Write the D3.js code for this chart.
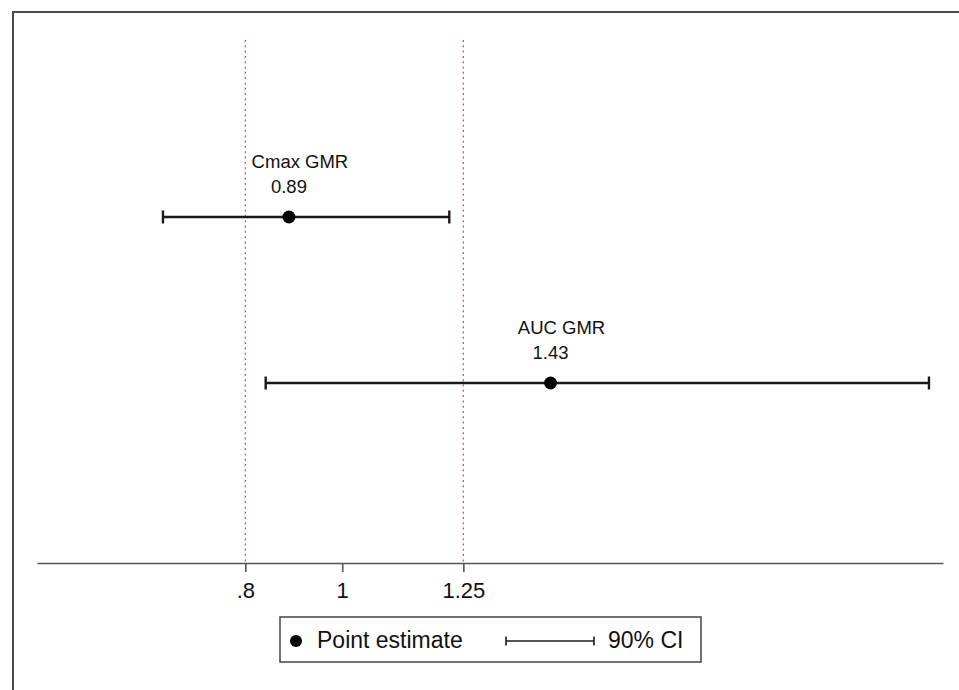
<!DOCTYPE html>
<html>
<head>
<meta charset="utf-8">
<script src="https://cdn.jsdelivr.net/npm/d3@7"></script>
<style>
  body { margin: 0; background: #fff; }
  text { font-family: "Liberation Sans", Arial, Helvetica, sans-serif; fill: #111; }
</style>
</head>
<body>
<div id="chart"></div>
<script>
// data
var measures = ["Cmax GMR", "AUC GMR"];
var estimates = [0.89, 1.43];
var lowerCI = [0.63, 0.842];
var upperCI = [1.221, 2.211];
var estLabels = ["0.89", "1.43"];
var tickValues = [0.8, 1, 1.25];
var tickLabels = [".8", "1", "1.25"];
var refLines = [0.8, 1.25];

var width = 959, height = 690;

var svg = d3.select("#chart").append("svg")
  .attr("width", width).attr("height", height);

// outer frame (only top/left visible in the crop)
svg.append("path")
  .attr("d", "M13,690 L13,12 L959,12")
  .style("fill", "none")
  .style("stroke", "#4a4a4a")
  .style("stroke-width", 2);

var x = d3.scaleLinear().domain([0.37, 2.24]).range([37, 943]);
var y = d3.scalePoint().domain(measures).range([217, 383]);
var axisY = 563;

// reference lines
svg.selectAll("line.ref").data(refLines).enter().append("line")
  .attr("class", "ref")
  .attr("x1", function(d){ return x(d); }).attr("x2", function(d){ return x(d); })
  .attr("y1", 40).attr("y2", axisY)
  .style("stroke", "#ff4848")
  .style("stroke-width", 1.3)
  .style("stroke-dasharray", "2,3.3");

// x axis
var axis = d3.axisBottom(x)
  .tickValues(tickValues)
  .tickSizeInner(9)
  .tickSizeOuter(0)
  .tickPadding(10)
  .tickFormat(function(d, i){ return tickLabels[i]; });

var gx = svg.append("g")
  .attr("transform", "translate(0," + axisY + ")")
  .call(axis);
gx.select(".domain").style("stroke", "#555").style("stroke-width", 1.6);
gx.selectAll(".tick line").style("stroke", "#555").style("stroke-width", 1.6);
gx.selectAll(".tick text")
  .style("font-family", "'Liberation Sans', Arial, sans-serif")
  .style("font-size", "22px")
  .style("fill", "#111");

// error bars
var rows = svg.selectAll("g.row").data(measures).enter().append("g")
  .attr("class", "row");

rows.append("line")
  .attr("x1", function(d, i){ return x(lowerCI[i]); })
  .attr("x2", function(d, i){ return x(upperCI[i]); })
  .attr("y1", function(d){ return y(d); }).attr("y2", function(d){ return y(d); })
  .style("stroke", "#1a1a1a").style("stroke-width", 2.4);

[lowerCI, upperCI].forEach(function(arr){
  rows.append("line")
    .attr("x1", function(d, i){ return x(arr[i]); })
    .attr("x2", function(d, i){ return x(arr[i]); })
    .attr("y1", function(d){ return y(d) - 6.5; })
    .attr("y2", function(d){ return y(d) + 6.5; })
    .style("stroke", "#1a1a1a").style("stroke-width", 2.4);
});

rows.append("circle")
  .attr("cx", function(d, i){ return x(estimates[i]); })
  .attr("cy", function(d){ return y(d); })
  .attr("r", 6.5)
  .style("fill", "#000");

rows.append("text")
  .attr("x", function(d, i){ return x(estimates[i]) + 11; })
  .attr("y", function(d){ return y(d) - 49; })
  .attr("text-anchor", "middle")
  .style("font-size", "18.5px")
  .text(function(d){ return d; });

rows.append("text")
  .attr("x", function(d, i){ return x(estimates[i]); })
  .attr("y", function(d){ return y(d) - 24; })
  .attr("text-anchor", "middle")
  .style("font-size", "18.5px")
  .text(function(d, i){ return estLabels[i]; });

// legend
var lg = svg.append("g");
lg.append("rect")
  .attr("x", 280).attr("y", 617).attr("width", 421).attr("height", 45)
  .style("fill", "#fff").style("stroke", "#444").style("stroke-width", 1.5);
lg.append("circle").attr("cx", 296).attr("cy", 641).attr("r", 6).style("fill", "#000");
lg.append("text").attr("x", 317).attr("y", 648)
  .style("font-size", "23px").text("Point estimate");
lg.append("line").attr("x1", 506).attr("x2", 594).attr("y1", 641).attr("y2", 641)
  .style("stroke", "#1a1a1a").style("stroke-width", 1.6);
[506, 594].forEach(function(cx){
  lg.append("line").attr("x1", cx).attr("x2", cx).attr("y1", 636.5).attr("y2", 645.5)
    .style("stroke", "#1a1a1a").style("stroke-width", 1.6);
});
lg.append("text").attr("x", 608).attr("y", 648)
  .style("font-size", "23px").text("90% CI");
</script>
</body>
</html>
